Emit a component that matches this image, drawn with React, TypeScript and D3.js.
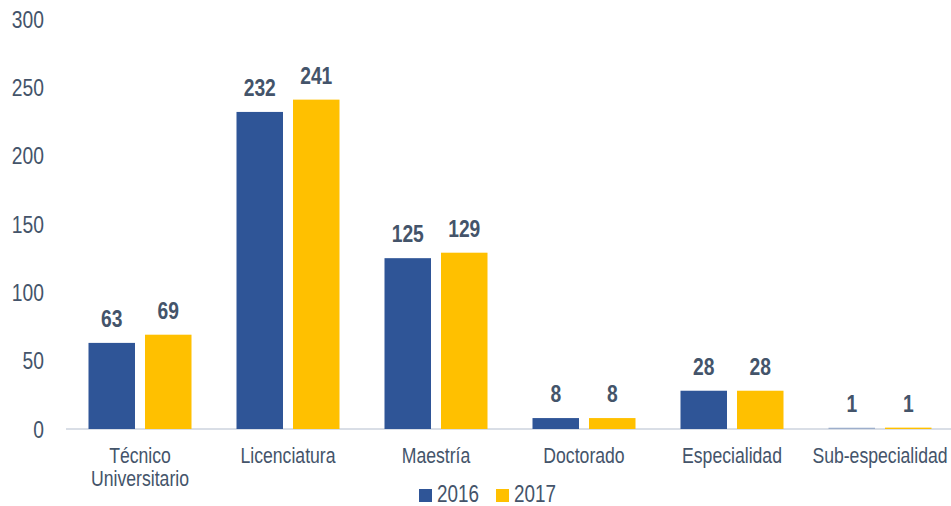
import React from "react";
import * as d3 from "d3";

const categories = ["Técnico\nUniversitario", "Licenciatura", "Maestría", "Doctorado", "Especialidad", "Sub-especialidad"];
const series2016 = [63, 232, 125, 8, 28, 1];
const series2017 = [69, 241, 129, 8, 28, 1];
const seriesNames = ["2016", "2017"];
const yTicks = [0, 50, 100, 150, 200, 250, 300];

const W = 951;
const H = 506;
const FONT = "'Liberation Sans', Arial, sans-serif";
const TEXT = "#44546a";
const COLORS = ["#2f5597", "#ffc000"];
const SX = 0.82;

function NText({ x, y, anchor = "start", size, bold = false, children }: any) {
  return (
    <text
      transform={`translate(${x},${y}) scale(${SX},1)`}
      textAnchor={anchor}
      fontFamily={FONT}
      fontSize={size}
      fontWeight={bold ? "bold" : "normal"}
      fill={TEXT}
    >
      {children}
    </text>
  );
}

export default function App() {
  const x = d3.scaleBand<number>().domain(d3.range(categories.length)).range([66, 954]).paddingInner(0).paddingOuter(0);
  const y = d3.scaleLinear().domain([0, 300]).range([429, 19]);
  const barW = 46.5;
  const gap = 10;
  const data = [series2016, series2017];

  return (
    <svg width={W} height={H} style={{ position: "absolute", left: 0, top: 0, background: "#fff" }}>
      {yTicks.map((t) => (
        <NText key={t} x={44} y={y(t) + 8.5} anchor="end" size={23.5}>
          {t}
        </NText>
      ))}
      <line x1={66} x2={951} y1={429} y2={429} stroke="#d9dee6" strokeWidth={2} />
      {data.map((vals, s) =>
        vals.map((v, i) => {
          const cx = x(i)! + x.bandwidth() / 2;
          const bx = s === 0 ? cx - gap / 2 - barW : cx + gap / 2;
          return (
            <g key={`${s}-${i}`}>
              <rect x={bx} y={y(v)} width={barW} height={y(0) - y(v)} fill={COLORS[s]} opacity={v < 3 && s === 0 ? 0.35 : 1} />
              <NText x={bx + barW / 2} y={y(v) - 16} anchor="middle" size={23.5} bold>
                {v}
              </NText>
            </g>
          );
        })
      )}
      {categories.map((c, i) => {
        const cx = x(i)! + x.bandwidth() / 2;
        return c.split("\n").map((line, k) => (
          <NText key={`${i}-${k}`} x={cx} y={462.5 + k * 23.5} anchor="middle" size={21.5}>
            {line}
          </NText>
        ));
      })}
      {seriesNames.map((n, s) => {
        const lx = s === 0 ? 419 : 496;
        return (
          <g key={n}>
            <rect x={lx} y={489} width={13} height={13} fill={COLORS[s]} />
            <NText x={lx + 18} y={502} size={23}>
              {n}
            </NText>
          </g>
        );
      })}
    </svg>
  );
}
